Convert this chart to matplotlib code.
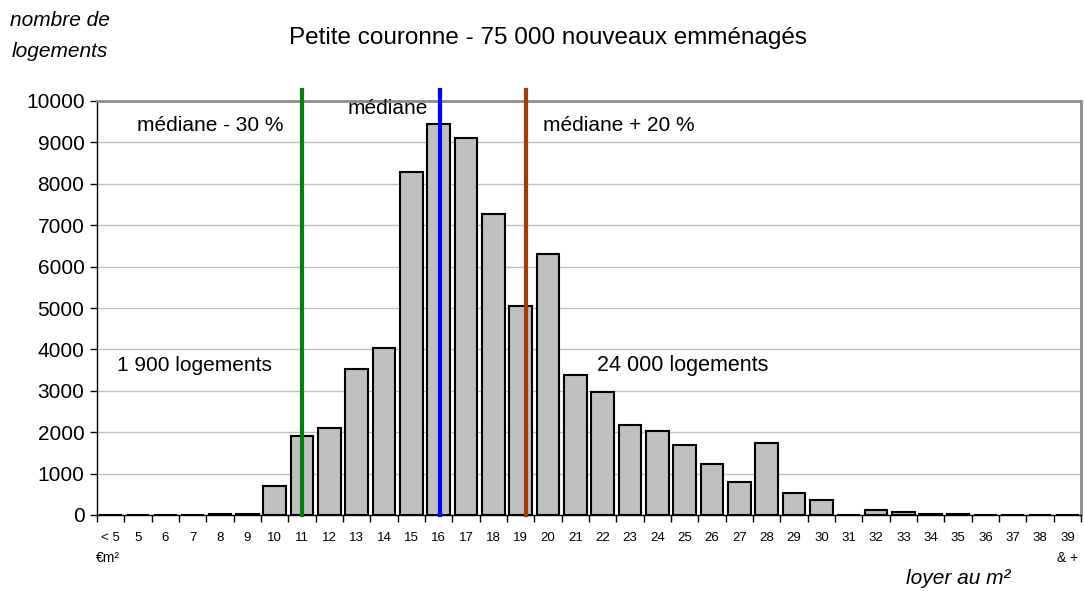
import matplotlib
matplotlib.use("Agg")
import matplotlib.pyplot as plt

plt.rcParams["font.family"] = ["Liberation Sans", "DejaVu Sans"]

# categories (loyer au m2) and counts of dwellings
categories = ["< 5", "5", "6", "7", "8", "9", "10", "11", "12", "13", "14", "15",
              "16", "17", "18", "19", "20", "21", "22", "23", "24", "25", "26", "27",
              "28", "29", "30", "31", "32", "33", "34", "35", "36", "37", "38", "39"]
counts = [0, 0, 0, 0, 30, 30, 700, 1920, 2100, 3520, 4030, 8280,
          9450, 9100, 7270, 5050, 6300, 3370, 2980, 2170, 2020, 1680, 1230, 800,
          1730, 520, 370, 0, 130, 80, 30, 30, 0, 0, 0, 0]

# reference lines, in category-axis units
ref_names = ["médiane - 30 %", "médiane", "médiane + 20 %"]
ref_pos = [7.0, 12.05, 15.2]
ref_colors = ["#0a7d0a", "#0000ff", "#a33a0a"]

fig = plt.figure(figsize=(10.85, 5.91), dpi=100)
ax = fig.add_axes([97 / 1085, 1 - 515 / 591, 984 / 1085, 414 / 591])

x = list(range(len(categories)))
ax.bar(x, counts, width=0.83, color="#c0c0c0", edgecolor="black", linewidth=1.5, zorder=2)

ax.set_xlim(-0.5, len(categories) - 0.5)
ax.set_ylim(0, 10000)
ax.set_yticks(range(0, 10001, 1000))
ax.yaxis.grid(True, color="#c0c0c0", linewidth=1, zorder=0)
ax.tick_params(axis="y", labelsize=15, direction="out", length=5, width=1, pad=4)

# ticks at category boundaries, labels at centres
ax.set_xticks([i - 0.5 for i in range(len(categories) + 1)])
ax.set_xticklabels([])
ax.set_xticks(x, minor=True)
ax.set_xticklabels(categories, minor=True, fontsize=9.5)
ax.tick_params(axis="x", which="major", direction="out", length=5, width=1)
ax.tick_params(axis="x", which="minor", length=0, pad=12)

for s in ["left", "bottom"]:
    ax.spines[s].set_color("black")
    ax.spines[s].set_linewidth(1)
for s in ["top", "right"]:
    ax.spines[s].set_color("#8c8c8c")
    ax.spines[s].set_linewidth(2)

for pos, col in zip(ref_pos, ref_colors):
    ax.plot([pos, pos], [0, 10270], color=col, linewidth=3, clip_on=False, zorder=3)

ax.text(0.96, 9420, ref_names[0], fontsize=15, va="center")
ax.text(8.68, 9830, ref_names[1], fontsize=15, va="center")
ax.text(15.82, 9420, ref_names[2], fontsize=15, va="center")
ax.text(0.23, 3620, "1 900 logements", fontsize=15, va="center")
ax.text(17.8, 3620, "24 000 logements", fontsize=15.5, va="center")

ax.text(-0.1, -0.104, "€m²", transform=ax.get_xaxis_transform(), fontsize=10,
        ha="center", va="center")
ax.text(35, -0.104, "& +", transform=ax.get_xaxis_transform(), fontsize=10,
        ha="center", va="center")

fig.text(548 / 1085, 1 - 38 / 591, "Petite couronne - 75 000 nouveaux emménagés",
         fontsize=17.5, ha="center", va="center")
fig.text(60 / 1085, 1 - 36 / 591, "nombre de\nlogements", fontsize=15,
         style="italic", ha="center", va="center", linespacing=1.75)
fig.text(1010 / 1085, 1 - 578 / 591, "loyer au m²", fontsize=15,
         style="italic", ha="right", va="center")

fig.savefig("out.png", dpi=100)
